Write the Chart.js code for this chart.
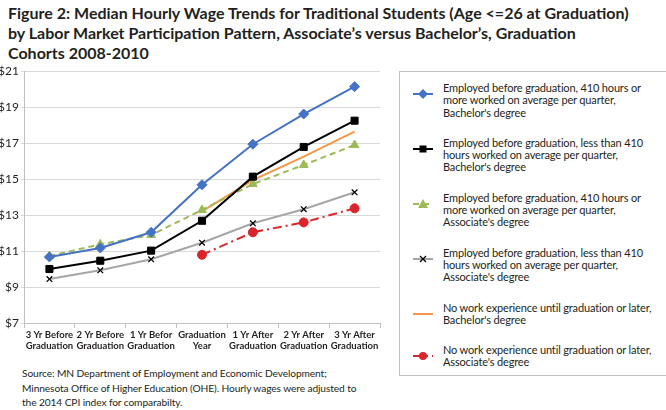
<!DOCTYPE html>
<html>
<head>
<meta charset="utf-8">
<script src="https://cdn.jsdelivr.net/npm/chart.js@4"></script>
<style>
  body { margin: 0; width: 666px; height: 410px; background: #fff; position: relative; overflow: hidden; font-family: 'Lato', sans-serif; color: #231f20; }
  #title { position: absolute; left: 8px; top: 3px; font-size: 16px; font-weight: bold; line-height: 20px; white-space: nowrap; }
  #chartWrap { position: absolute; left: 0; top: 60px; width: 395px; height: 300px; }
  #legend { position: absolute; left: 399px; top: 71px; width: 270px; height: 305px; border: 1px solid #bfbfbf; box-sizing: border-box; padding-top: 10px; }
  .item { position: relative; padding-left: 43px; font-size: 11px; letter-spacing: -0.15px; line-height: 12.3px; margin-bottom: 18px; white-space: nowrap; }
  .item svg { position: absolute; left: 13px; top: 6px; }
  #source { position: absolute; left: 22px; top: 366px; font-size: 10.2px; letter-spacing: -0.1px; line-height: 14.5px; white-space: nowrap; }
</style>
</head>
<body>
<div id="title">Figure 2: Median Hourly Wage Trends for Traditional Students (Age &lt;=26 at Graduation)<br>by Labor Market Participation Pattern, Associate’s versus Bachelor’s, Graduation<br>Cohorts 2008-2010</div>
<div id="chartWrap"><canvas id="wageChart"></canvas></div>
<div id="legend"></div>
<div id="source">Source: MN Department of Employment and Economic Development;<br>Minnesota Office of Higher Education (OHE). Hourly wages were adjusted to<br>the 2014 CPI index for comparabilty.</div>
<script>
// Categories (x axis)
const periods = [
  ['3 Yr Before', 'Graduation'],
  ['2 Yr Before', 'Graduation'],
  ['1 Yr Befor', 'Graduation'],
  ['Graduation', 'Year'],
  ['1 Yr After', 'Graduation'],
  ['2 Yr After', 'Graduation'],
  ['3 Yr After', 'Graduation']
];

// Series values (median hourly wage, $)
const bachMore410 = [10.67, 11.17, 12.04, 14.68, 16.93, 18.61, 20.13];
const bachLess410 = [10.00, 10.46, 11.02, 12.68, 15.13, 16.78, 18.24];
const assocMore410 = [10.72, 11.37, 11.89, 13.28, 14.72, 15.78, 16.89];
const assocLess410 = [9.44, 9.93, 10.54, 11.46, 12.54, 13.32, 14.26];
const bachNoWork = [null, null, null, 13.20, 14.94, 16.24, 17.63];
const assocNoWork = [null, null, null, 10.79, 12.04, 12.59, 13.37];

// Legend labels
const seriesLabels = [
  ['Employed before graduation, 410 hours or', 'more worked on average per quarter,', "Bachelor's degree"],
  ['Employed before graduation, less than 410', 'hours worked on average per quarter,', "Bachelor's degree"],
  ['Employed before graduation, 410 hours or', 'more worked on average per quarter,', "Associate's degree"],
  ['Employed before graduation, less than 410', 'hours worked on average per quarter,', "Associate's degree"],
  ['No work experience until graduation or later,', "Bachelor's degree"],
  ['No work experience until graduation or later,', "Associate's degree"]
];

// Y axis ticks
const yMin = 7;
const yMax = 21;
const yStep = 2;

const colors = {
  blue: '#4472c4',
  black: '#000000',
  green: '#9bbb59',
  gray: '#a6a6a6',
  orange: '#f79646',
  red: '#d9262c',
  grid: '#d9d9d9',
  axis: '#bfbfbf',
  text: '#231f20'
};

const datasets = [
  { data: bachMore410, borderColor: colors.blue, backgroundColor: colors.blue, pointStyle: 'rectRot', pointRadius: 5, pointBorderColor: colors.blue, dash: [] },
  { data: bachLess410, borderColor: colors.black, backgroundColor: colors.black, pointStyle: 'rect', pointRadius: 5, pointBorderColor: colors.black, dash: [] },
  { data: assocMore410, borderColor: colors.green, backgroundColor: colors.green, pointStyle: 'triangle', pointRadius: 5, pointBorderColor: colors.green, dash: [6, 4] },
  { data: assocLess410, borderColor: colors.gray, backgroundColor: colors.black, pointStyle: 'crossRot', pointRadius: 4, pointBorderColor: colors.black, pointBorderWidth: 1.3, dash: [] },
  { data: bachNoWork, borderColor: colors.orange, backgroundColor: colors.orange, pointStyle: 'circle', pointRadius: 0, pointBorderColor: colors.orange, dash: [] },
  { data: assocNoWork, borderColor: colors.red, backgroundColor: colors.red, pointStyle: 'circle', pointRadius: 4.5, pointBorderColor: colors.red, dash: [9, 4, 2, 4] }
].map((d, i) => ({
  label: seriesLabels[i].join(' '),
  data: d.data,
  borderColor: d.borderColor,
  backgroundColor: d.backgroundColor,
  borderWidth: 2,
  borderDash: d.dash,
  pointStyle: d.pointStyle,
  pointRadius: d.pointRadius,
  pointHoverRadius: d.pointRadius,
  pointBackgroundColor: d.backgroundColor,
  pointBorderColor: d.pointBorderColor,
  pointBorderWidth: d.pointBorderWidth || 1,
  spanGaps: false,
  tension: 0
}));

Chart.defaults.font.family = "'Lato', sans-serif";
Chart.defaults.color = colors.text;

new Chart(document.getElementById('wageChart'), {
  type: 'line',
  data: { labels: periods, datasets: datasets },
  options: {
    responsive: true,
    maintainAspectRatio: false,
    animation: false,
    layout: { padding: { left: 0, right: 15, top: 11, bottom: 0 } },
    plugins: { legend: { display: false }, tooltip: { enabled: false } },
    scales: {
      x: {
        offset: true,
        grid: { offset: true, drawOnChartArea: false, tickLength: 5, color: colors.axis },
        border: { color: colors.axis },
        ticks: { font: { size: 9.5, weight: 'bold', lineHeight: 1.1 }, padding: 2, maxRotation: 0, autoSkip: false },
        afterFit: s => { s.height = 37; }
      },
      y: {
        min: yMin,
        max: yMax,
        grid: { color: colors.grid, tickLength: 3 },
        border: { color: colors.axis },
        ticks: { stepSize: yStep, padding: 2, font: { size: 12 }, callback: v => '$' + v },
        afterFit: s => { s.width = 24; }
      }
    }
  }
});

// HTML legend with small drawn markers
const legendEl = document.getElementById('legend');
datasets.forEach((ds, i) => {
  const item = document.createElement('div');
  item.className = 'item';
  const dash = ds.borderDash.length ? ` stroke-dasharray="${ds.borderDash.join(' ')}"` : '';
  let marker = '';
  const c = ds.pointBackgroundColor;
  if (ds.pointRadius > 0) {
    if (ds.pointStyle === 'rectRot') marker = `<polygon points="10,1 15,6 10,11 5,6" fill="${c}"/>`;
    if (ds.pointStyle === 'rect') marker = `<rect x="6.5" y="2.5" width="7" height="7" fill="${c}"/>`;
    if (ds.pointStyle === 'triangle') marker = `<polygon points="10,1 15,10 5,10" fill="${c}"/>`;
    if (ds.pointStyle === 'crossRot') marker = `<path d="M7,3 L13,9 M13,3 L7,9" stroke="#000" stroke-width="1.3"/>`;
    if (ds.pointStyle === 'circle') marker = `<circle cx="10" cy="6" r="4" fill="${c}"/>`;
  }
  item.innerHTML = `<svg width="20" height="12"><line x1="0" y1="6" x2="20" y2="6" stroke="${ds.borderColor}" stroke-width="2"${dash}/>${marker}</svg>` +
    seriesLabels[i].join('<br>');
  legendEl.appendChild(item);
});
</script>
</body>
</html>
